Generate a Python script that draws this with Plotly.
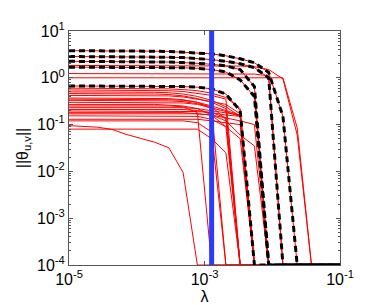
import plotly.graph_objects as go

Z = 1e-4  # values at the lower clipping level

# regularisation grid (lambda values)
lambdas = [1.0e-5, 1.624e-5, 2.637e-5, 4.281e-5, 6.952e-5, 1.129e-4, 1.833e-4,
           2.976e-4, 4.833e-4, 7.848e-4, 1.274e-3, 2.069e-3, 3.360e-3, 5.456e-3,
           8.859e-3, 1.438e-2, 2.336e-2, 3.793e-2, 6.158e-2, 1.0e-1]

selected_lambda = 1.274e-3

# true edges (black dashed, also drawn in red underneath)
true_edges = [
    [3.8, 3.8, 3.8, 3.8, 3.8, 3.75, 3.7, 3.65, 3.55, 3.45, 3.25, 2.95, 2.55, 2.1, 1.3, 0.15, Z, Z, Z, Z],
    [2.85, 2.85, 2.85, 2.85, 2.85, 2.8, 2.8, 2.75, 2.7, 2.6, 2.45, 2.25, 2.0, 1.65, 1.0, Z, Z, Z, Z, Z],
    [2.25, 2.25, 2.25, 2.25, 2.25, 2.22, 2.2, 2.17, 2.12, 2.05, 1.95, 1.8, 1.5, 0.65, Z, Z, Z, Z, Z, Z],
    [1.69, 1.69, 1.69, 1.69, 1.68, 1.68, 1.67, 1.66, 1.64, 1.6, 1.5, 1.33, 0.9, 0.4, Z, Z, Z, Z, Z, Z],
    [0.67, 0.67, 0.67, 0.67, 0.67, 0.67, 0.66, 0.66, 0.65, 0.63, 0.58, 0.45, 0.2, Z, Z, Z, Z, Z, Z, Z],
]

# all other edge paths (red)
other_edges = [
    [1.84, 1.84, 1.84, 1.84, 1.84, 1.84, 1.83, 1.83, 1.83, 1.82, 1.81, 1.8, 1.78, 1.72, 1.5, 0.95, 0.06, Z, Z, Z],
    [1.23, 1.23, 1.23, 1.23, 1.23, 1.23, 1.23, 1.23, 1.23, 1.23, 1.23, 1.22, 1.22, 1.2, 1.1, Z, Z, Z, Z, Z],
    [1.0, 1.0, 1.0, 1.0, 1.0, 1.0, 1.0, 1.0, 1.0, 1.0, 1.0, 1.0, 1.0, 1.0, 1.0, 1.0, 0.085, Z, Z, Z],
    [0.6, 0.6, 0.6, 0.6, 0.6, 0.59, 0.59, 0.58, 0.56, 0.53, 0.47, 0.38, 0.22, Z, Z, Z, Z, Z, Z, Z],
    [0.55, 0.55, 0.55, 0.55, 0.55, 0.55, 0.54, 0.53, 0.51, 0.47, 0.42, 0.35, Z, Z, Z, Z, Z, Z, Z, Z],
    [0.5, 0.5, 0.5, 0.5, 0.5, 0.5, 0.49, 0.48, 0.45, 0.4, 0.33, 0.24, 0.15, Z, Z, Z, Z, Z, Z, Z],
    [0.46, 0.46, 0.46, 0.46, 0.46, 0.46, 0.45, 0.44, 0.41, 0.36, 0.3, 0.22, Z, Z, Z, Z, Z, Z, Z, Z],
    [0.42, 0.42, 0.42, 0.42, 0.42, 0.42, 0.42, 0.41, 0.39, 0.35, 0.31, 0.27, 0.17, Z, Z, Z, Z, Z, Z, Z],
    [0.37, 0.37, 0.37, 0.37, 0.37, 0.37, 0.37, 0.36, 0.34, 0.3, 0.25, 0.2, 0.16, Z, Z, Z, Z, Z, Z, Z],
    [0.35, 0.35, 0.35, 0.35, 0.35, 0.35, 0.35, 0.34, 0.33, 0.3, 0.22, Z, Z, Z, Z, Z, Z, Z, Z, Z],
    [0.33, 0.33, 0.33, 0.33, 0.33, 0.33, 0.33, 0.32, 0.31, 0.28, 0.24, 0.13, Z, Z, Z, Z, Z, Z, Z, Z],
    [0.3, 0.3, 0.3, 0.3, 0.3, 0.3, 0.3, 0.3, 0.29, 0.27, 0.23, 0.19, 0.15, Z, Z, Z, Z, Z, Z, Z],
    [0.27, 0.27, 0.27, 0.27, 0.27, 0.27, 0.27, 0.26, 0.25, 0.22, 0.16, 0.09, Z, Z, Z, Z, Z, Z, Z, Z],
    [0.25, 0.25, 0.25, 0.25, 0.25, 0.25, 0.25, 0.25, 0.24, 0.18, Z, Z, Z, Z, Z, Z, Z, Z, Z, Z],
    [0.23, 0.23, 0.23, 0.23, 0.23, 0.23, 0.23, 0.23, 0.23, 0.22, 0.2, 0.18, 0.16, Z, Z, Z, Z, Z, Z, Z],
    [0.21, 0.21, 0.21, 0.21, 0.21, 0.21, 0.21, 0.21, 0.21, 0.2, 0.18, 0.14, Z, Z, Z, Z, Z, Z, Z, Z],
    [0.195, 0.195, 0.195, 0.195, 0.195, 0.195, 0.195, 0.195, 0.195, 0.19, 0.18, 0.16, 0.15, Z, Z, Z, Z, Z, Z, Z],
    [0.18, 0.18, 0.18, 0.18, 0.18, 0.18, 0.18, 0.18, 0.18, 0.17, 0.16, 0.12, 0.06, 0.035, Z, Z, Z, Z, Z, Z],
    [0.17, 0.17, 0.17, 0.17, 0.17, 0.17, 0.17, 0.17, 0.17, 0.17, 0.16, 0.14, 0.12, 0.1, Z, Z, Z, Z, Z, Z],
    [0.154, 0.154, 0.154, 0.154, 0.154, 0.154, 0.154, 0.154, 0.154, 0.15, 0.13, 0.09, 0.05, Z, Z, Z, Z, Z, Z, Z],
    [0.13, 0.13, 0.13, 0.13, 0.13, 0.13, 0.13, 0.13, 0.13, 0.13, 0.12, 0.11, 0.1, Z, Z, Z, Z, Z, Z, Z],
    [0.12, 0.12, 0.12, 0.12, 0.12, 0.12, 0.12, 0.12, 0.12, 0.11, 0.07, Z, Z, Z, Z, Z, Z, Z, Z, Z],
    [0.08, 0.08, 0.08, 0.08, 0.08, 0.08, 0.08, 0.08, 0.08, 0.08, 0.05, 0.025, Z, Z, Z, Z, Z, Z, Z, Z],
    [0.095, 0.092, 0.088, 0.079, 0.062, 0.051, 0.042, 0.032, 0.0095, Z, Z, Z, Z, Z, Z, Z, Z, Z, Z, Z],
]

x_ticks = [1e-5, 1e-3, 1e-1]
x_ticktext = ["10<sup>-5</sup>", "10<sup>-3</sup>", "10<sup>-1</sup>"]
y_ticks = [1e-4, 1e-3, 1e-2, 1e-1, 1e0, 1e1]
y_ticktext = ["10<sup>-4</sup>", "10<sup>-3</sup>", "10<sup>-2</sup>",
              "10<sup>-1</sup>", "10<sup>0</sup>", "10<sup>1</sup>"]

fig = go.Figure()
for vals in other_edges + true_edges:
    fig.add_trace(go.Scatter(x=lambdas, y=vals, mode="lines",
                             line=dict(color="#ff0000", width=1),
                             showlegend=False, hoverinfo="skip"))
for vals in true_edges:
    fig.add_trace(go.Scatter(x=lambdas, y=vals, mode="lines",
                             line=dict(color="#000000", width=3, dash="6px,4px"),
                             showlegend=False, hoverinfo="skip"))
fig.add_trace(go.Scatter(x=[selected_lambda, selected_lambda], y=[1e-4, 1e1],
                         mode="lines", line=dict(color="#2b3bff", width=5),
                         showlegend=False, hoverinfo="skip"))

axis_common = dict(type="log", showgrid=False, zeroline=False, showline=True,
                   linecolor="#555555", linewidth=1, mirror="ticks",
                   ticks="inside", ticklen=4, tickcolor="#555555",
                   tickfont=dict(family="Liberation Sans, Arial, sans-serif",
                                 size=16, color="#000000"))

fig.update_xaxes(**axis_common, range=[-5, -1], tickmode="array",
                 tickvals=x_ticks, ticktext=x_ticktext,
                 title=dict(text="λ", standoff=2,
                            font=dict(family="Liberation Sans, Arial, sans-serif",
                                      size=16, color="#000000")))
fig.update_yaxes(**axis_common, range=[-4, 1], tickmode="array",
                 tickvals=y_ticks, ticktext=y_ticktext,
                 minor=dict(ticks="inside", ticklen=2, tickcolor="#555555",
                            dtick="D1", showgrid=False),
                 title=dict(text="||θ<sub>u,v</sub>||", standoff=4,
                            font=dict(family="Liberation Sans, Arial, sans-serif",
                                      size=16, color="#000000")))

fig.update_layout(width=366, height=305,
                  margin=dict(l=61, r=34, t=23, b=42),
                  paper_bgcolor="white", plot_bgcolor="white")

fig.write_html("out.html")
